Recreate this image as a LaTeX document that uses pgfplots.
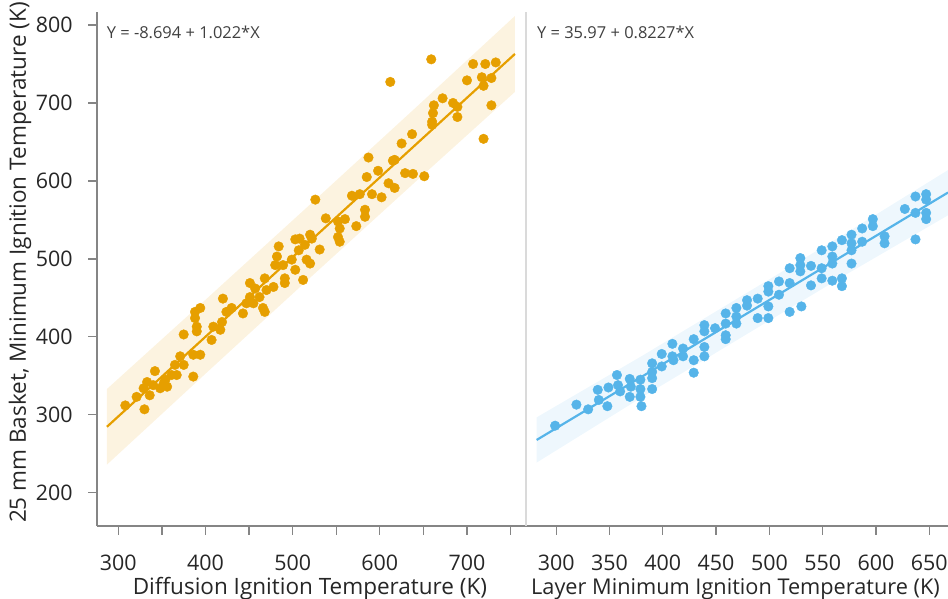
\documentclass[border=0pt]{standalone}
\usepackage{pgfplots}
\pgfplotsset{compat=1.18}
\usepackage{fontspec}
\setmainfont{Open Sans}
\definecolor{orng}{HTML}{E69F00}
\definecolor{skyb}{HTML}{56B4E9}
\definecolor{axisgray}{HTML}{858585}
\definecolor{sepgray}{HTML}{DADADA}
\definecolor{txtgray}{HTML}{262626}
\definecolor{anngray}{HTML}{404040}
\pgfplotsset{
  panel/.style={
    anchor=south west, scale only axis, height=514bp,
    ymin=157.7, ymax=817.1,
    axis x line*=bottom, axis y line*=left,
    axis line style={-, draw=axisgray, line width=1.6bp},
    tick align=outside, major tick length=9bp,
    tick style={draw=axisgray, line width=1.3bp},
    /pgf/number format/assume math mode=true,
    ticklabel style={font=\fontsize{21.5}{24}\selectfont, text=txtgray},
    xticklabel style={anchor=center, yshift=-28.3bp},
    yticklabel style={anchor=east, inner sep=0pt, xshift=-15.6bp},
    label style={font=\fontsize{22.6}{26}\selectfont, text=txtgray},
  }
}
\begin{document}
\begin{tikzpicture}
\begin{axis}[panel,
  at={(97.3bp,73.3bp)}, width=428.7bp,
  xmin=275.9, xmax=767.7,
  xtick={300,350,...,750}, xticklabels={300,,400,,500,,600,,700,},
  ytick={200,300,...,800},
  xlabel={Diffusion Ignition Temperature (K)},
  xlabel style={at={(axis description cs:0.496,-0.1329)}, anchor=base},
  ylabel={25 mm Basket, Minimum Ignition Temperature (K)},
  ylabel style={at={(axis description cs:-0.1803,0.512)}, anchor=center},
]
\addplot[draw=none, fill=orng, fill opacity=0.12, forget plot] coordinates {
 (287,236.1) (400,352.7) (521,476.8) (640,598.0) (755,714.2)
 (755,811.6) (640,692.8) (521,570.8) (400,447.5) (287,333.1) (287,236.1)};
\addplot[only marks, mark=*, mark size=4.8bp, mark options={draw=orng, fill=orng}] coordinates {
(308,312) (321,323) (330,307) (333,342) (329,334) (336,325) (342,356) (340,338) (348,334) (352,340)
(356,336) (354,345) (361,351) (367,351) (365,364) (371,375) (375,364) (386,349) (375,403) (386,377)
(394,377) (390,407) (390,413) (388,424) (388,432) (394,437) (409,413) (407,396) (417,409) (419,419)
(424,432) (420,449) (430,437)
(443,430) (447,443) (451,451) (455,443) (451,469) (457,462) (462,451) (466,437) (468,432) (470,460)
(468,475) (478,464) (480,492) (489,492) (491,475) (491,469) (503,486) (512,473) (482,503) (484,516)
(499,499) (516,499) (520,494) (503,525) (508,526) (507,511) (514,518) (520,531) (522,526) (531,512)
(538,552) (552,548) (560,551) (554,539) (552,528) (554,522) (526,576) (573,542) (583,563) (583,554)
(568,581) (577,583) (591,583) (602,579) (585,605) (598,613) (587,630) (617,627) (629,610) (610,597)
(617,591)
(659,756) (612,727) (707,750) (721,750) (733,752) (700,729) (717,733) (728,732) (719,722) (728,697)
(719,654) (672,706) (662,697) (684,700) (689,695) (689,682) (661,687) (660,676) (660,672) (637,660)
(625,648) (615,626) (638,609) (651,606)};
\addplot[orng, line width=2.2bp] coordinates {(287,284.6) (755,762.9)};
\node[anchor=base west, inner sep=0pt, font=\fontsize{16.5}{19}\selectfont, text=anngray]
  at (axis description cs:0.0219,0.9482) {Y = -8.694 + 1.022*X};
\end{axis}
\begin{axis}[panel,
  at={(526bp,73.3bp)}, width=422bp,
  xmin=271.7, xmax=667.5,
  y axis line style={-, draw=sepgray, line width=1.2bp},
  ytick=\empty,
  xtick={300,350,...,650},
  xlabel={Layer Minimum Ignition Temperature (K)},
  xlabel style={at={(axis description cs:0.0118,-0.1329)}, anchor=base west, inner sep=0pt, font=\fontsize{21.8}{26}\selectfont},
]
\addplot[draw=none, fill=skyb, fill opacity=0.10, forget plot] coordinates {
 (281.7,238.7) (380,322.1) (475,400.3) (570,478.4) (667.5,555.9)
 (667.5,613.9) (570,531.4) (475,453.3) (380,375.1) (281.7,296.7) (281.7,238.7)};
\addplot[only marks, mark=*, mark size=4.8bp, mark options={draw=skyb, fill=skyb}] coordinates {
(299,286) (319,313) (330,307) (339,332) (340,319) (348,311) (349,335) (357,351) (358,338) (360,330)
(369,346) (370,336) (369,323) (379,345) (379,333) (379,323) (380,311) (390,366) (390,355) (390,347)
(390,333) (399,378) (399,362) (409,391) (410,370) (409,375) (419,385) (419,375) (429,397) (429,370)
(429,354) (439,415) (439,407) (439,387) (439,375) (449,411) (459,430) (459,417) (459,402) (459,397)
(469,437) (469,426) (469,417) (479,447) (479,440) (489,449) (489,424) (499,465) (499,458) (499,439)
(499,424) (509,471) (509,454) (519,488) (519,469) (519,432) (529,501) (529,492) (529,484) (530,439)
(539,491) (539,466) (549,511) (549,488) (549,475) (559,516) (559,503) (559,494) (559,472) (568,524)
(568,475) (568,465) (577,531) (577,520) (577,511) (577,494) (587,539) (587,522) (597,551) (597,542)
(608,529) (608,520) (627,564) (637,580) (637,559) (637,525) (647,583) (647,576) (647,559) (647,551)};
\addplot[skyb, line width=2.2bp] coordinates {(281.7,267.7) (667.5,585.1)};
\node[anchor=base west, inner sep=0pt, font=\fontsize{16.5}{19}\selectfont, text=anngray]
  at (axis description cs:0.026,0.9482) {Y = 35.97 + 0.8227*X};
\end{axis}
\pgfresetboundingbox
\useasboundingbox (0,0) rectangle (948bp,599bp);
\end{tikzpicture}
\end{document}
